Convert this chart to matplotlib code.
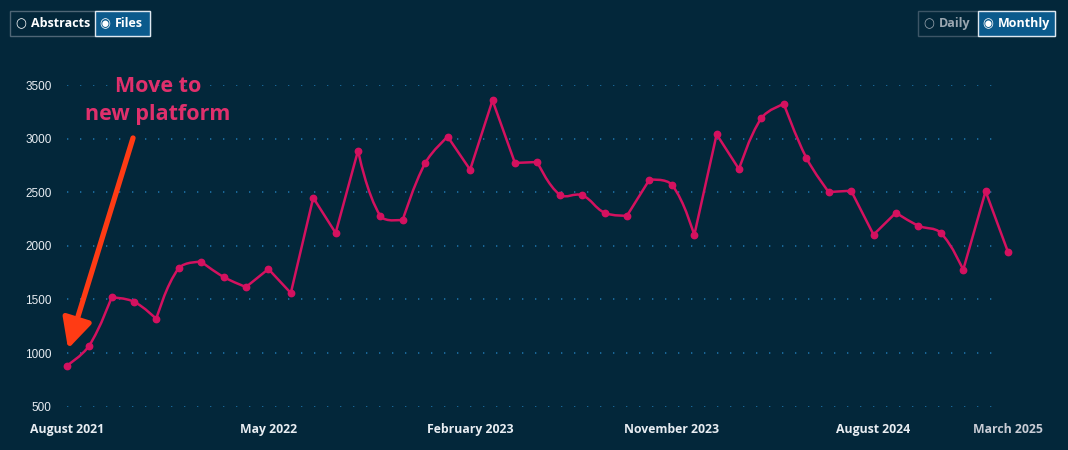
import matplotlib.pyplot as plt
import numpy as np
from matplotlib.path import Path
from matplotlib.patches import PathPatch, Rectangle

# monthly file downloads, August 2021 .. February 2025
values = [882, 1069, 1520, 1479, 1318, 1791, 1852, 1710, 1616, 1784,
          1560, 2449, 2120, 2889, 2278, 2244, 2773, 3018, 2710, 3357,
          2773, 2782, 2477, 2471, 2309, 2281, 2617, 2570, 2098, 3040,
          2714, 3192, 3323, 2822, 2502, 2514, 2104, 2309, 2188, 2120,
          1775, 2509, 1943]
tick_pos = [0, 9, 18, 27, 36]
tick_labels = ['August 2021', 'May 2022', 'February 2023', 'November 2023', 'August 2024']
last_label = 'March 2025'
y_ticks = [500, 1000, 1500, 2000, 2500, 3000, 3500]

bg = '#03273a'
line_col = '#d4115f'
fg = '#e8edf2'


def spline_path(ax, x, y, tension=0.4):
    # chart.js style spline in display space, sharp corners at local extrema
    pts = ax.transData.transform(np.column_stack([x, y]))
    n = len(pts)
    prev_cp = pts.copy()
    next_cp = pts.copy()
    for i in range(1, n - 1):
        p0, p1, p2 = pts[i - 1], pts[i], pts[i + 1]
        if (p1[1] - p0[1]) * (p2[1] - p1[1]) <= 0:
            continue
        d01 = np.hypot(*(p1 - p0))
        d12 = np.hypot(*(p2 - p1))
        s01 = d01 / (d01 + d12)
        s12 = d12 / (d01 + d12)
        prev_cp[i] = p1 - tension * s01 * (p2 - p0)
        next_cp[i] = p1 + tension * s12 * (p2 - p0)
    verts = [pts[0]]
    codes = [Path.MOVETO]
    for i in range(n - 1):
        verts += [next_cp[i], prev_cp[i + 1], pts[i + 1]]
        codes += [Path.CURVE4] * 3
    verts = ax.transData.inverted().transform(np.array(verts))
    return Path(verts, codes)


fig = plt.figure(figsize=(10.68, 4.5), dpi=100, facecolor=bg)
ax = fig.add_axes([66.7 / 1068, (450 - 406.7) / 450, (1008 - 66.7) / 1068, (406.7 - 85) / 450])
ax.set_facecolor(bg)
for s in ax.spines.values():
    s.set_visible(False)

xs = np.arange(len(values))
ax.set_xlim(0, len(values) - 1)
ax.set_ylim(500, 3500)

ax.hlines(y_ticks, 0, 41.7, colors='#1d72a8', linestyles=(0, (0.8, 7)), linewidth=1.2, zorder=1)

ax.add_patch(PathPatch(spline_path(ax, xs, values), facecolor='none', edgecolor=line_col,
                       linewidth=1.8, zorder=3, clip_on=False, joinstyle='round'))
ax.plot(xs, values, 'o', color=line_col, markersize=4.6, zorder=4, clip_on=False)

ax.set_yticks(y_ticks)
ax.set_yticklabels([str(v) for v in y_ticks], fontfamily='Liberation Sans', fontsize=8.5, color=fg)
ax.set_xticks(tick_pos)
ax.set_xticklabels(tick_labels, fontfamily='Open Sans', fontweight='bold', fontsize=8.8, color=fg)
ax.tick_params(axis='y', length=0, pad=11)
ax.tick_params(axis='x', length=0, pad=12)
ax.text(len(values) - 1, -0.07, last_label, transform=ax.get_xaxis_transform(),
        ha='center', va='center', fontfamily='Open Sans', fontweight='bold', fontsize=8.8,
        color='#c9cdd6')

# annotation
ax.text(4.07, 3355, 'Move to\nnew platform', ha='center', va='center', fontfamily='Open Sans',
        fontweight='bold', fontsize=15.5, color='#e0306c', linespacing=1.45)
ax.annotate('', xy=(0.06, 1040), xytext=(2.96, 3006),
            arrowprops=dict(arrowstyle='-|>,head_width=0.9,head_length=1.8', color='#ff3b14',
                            linewidth=3.8, shrinkA=0, shrinkB=0))


# toggle buttons at the top
def button(x0, w, label, active, dim=False):
    y0 = 450 - 36
    h = 25
    if active:
        fig.patches.append(Rectangle((x0 / 1068, y0 / 450), w / 1068, h / 450, transform=fig.transFigure,
                                     facecolor='#0b5a8c', edgecolor='#dfe8f0', linewidth=1.0))
    mark = '\u25c9' if active else '\u25cb'
    col = '#9aa6b0' if dim else 'white'
    fig.text((x0 + 10) / 1068, (y0 + h / 2) / 450, mark, ha='center', va='center',
             fontfamily='DejaVu Sans', fontsize=9, color='white' if active else col)
    fig.text((x0 + 20) / 1068, (y0 + h / 2) / 450, label, ha='left', va='center',
             fontfamily='Open Sans', fontweight='bold', fontsize=9, color=col)


fig.patches.append(Rectangle((10 / 1068, 414 / 450), 140 / 1068, 25 / 450, transform=fig.transFigure,
                             facecolor='none', edgecolor='#4f6676', linewidth=1.0))
button(11, 83, 'Abstracts', False)
button(95, 55, 'Files', True)
fig.patches.append(Rectangle((918 / 1068, 414 / 450), 137 / 1068, 25 / 450, transform=fig.transFigure,
                             facecolor='none', edgecolor='#3c5566', linewidth=1.0))
button(919, 58, 'Daily', False, dim=True)
button(978, 77, 'Monthly', True)

fig.savefig('out.png', dpi=100, facecolor=bg)
